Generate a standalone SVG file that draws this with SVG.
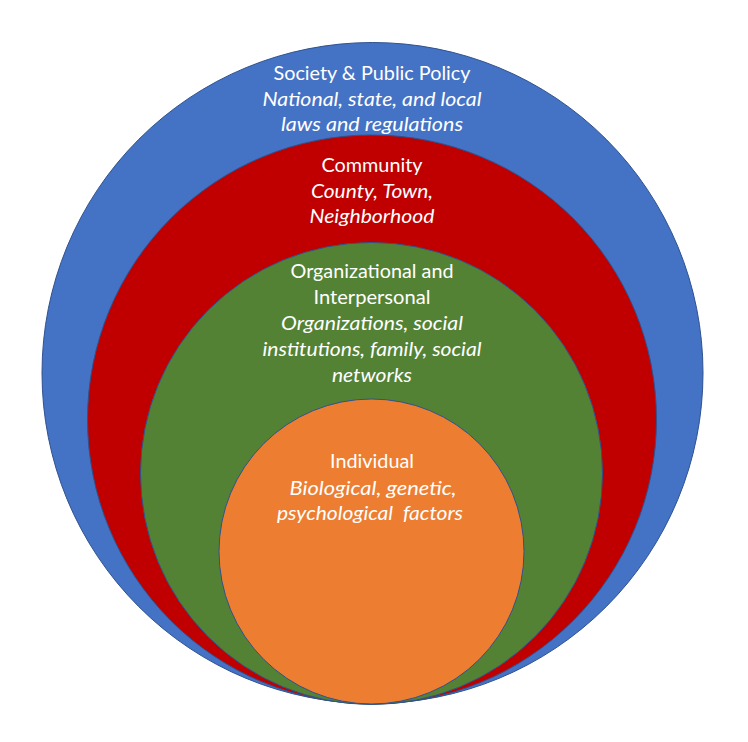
<svg xmlns="http://www.w3.org/2000/svg" width="748" height="742" viewBox="0 0 748 742">
<style>
.ring{stroke:#2F528F;stroke-width:1}
text{font-family:Lato,"Open Sans","Liberation Sans",sans-serif;font-size:19.5px;fill:#ffffff;text-anchor:middle}
.i{font-style:italic;font-size:20px}
</style>
<rect width="748" height="742" fill="#ffffff"/>
<g id="society">
<circle class="ring" cx="372.5" cy="373" r="330.5" fill="#4472C4"/>
<text x="372" y="80" textLength="197" lengthAdjust="spacingAndGlyphs">Society &amp; Public Policy</text>
<text class="i" x="372" y="106" textLength="219" lengthAdjust="spacingAndGlyphs">National, state, and local</text>
<text class="i" x="372" y="131" textLength="182" lengthAdjust="spacingAndGlyphs">laws and regulations</text>
</g>
<g id="community">
<circle class="ring" cx="372" cy="419.5" r="284.5" fill="#C00000"/>
<text x="372" y="172" textLength="101" lengthAdjust="spacingAndGlyphs">Community</text>
<text class="i" x="372" y="198" textLength="122" lengthAdjust="spacingAndGlyphs">County, Town,</text>
<text class="i" x="372" y="223" textLength="125" lengthAdjust="spacingAndGlyphs">Neighborhood</text>
</g>
<g id="organizational">
<circle class="ring" cx="371.5" cy="473.5" r="231" fill="#548235"/>
<text x="372" y="278" textLength="163" lengthAdjust="spacingAndGlyphs">Organizational and</text>
<text x="372" y="304" textLength="117" lengthAdjust="spacingAndGlyphs">Interpersonal</text>
<text class="i" x="372" y="330" textLength="182" lengthAdjust="spacingAndGlyphs">Organizations, social</text>
<text class="i" x="372" y="356" textLength="219" lengthAdjust="spacingAndGlyphs">institutions, family, social</text>
<text class="i" x="372" y="382" textLength="80" lengthAdjust="spacingAndGlyphs">networks</text>
</g>
<g id="individual">
<circle class="ring" cx="371.5" cy="551.5" r="152.5" fill="#ED7D31"/>
<text x="372" y="468" textLength="84" lengthAdjust="spacingAndGlyphs">Individual</text>
<text class="i" x="373" y="495" textLength="167" lengthAdjust="spacingAndGlyphs">Biological, genetic,</text>
<text class="i" x="370" y="520" xml:space="preserve" textLength="186" lengthAdjust="spacingAndGlyphs">psychological  factors</text>
</g>
<g id="connectors"></g>
</svg>
